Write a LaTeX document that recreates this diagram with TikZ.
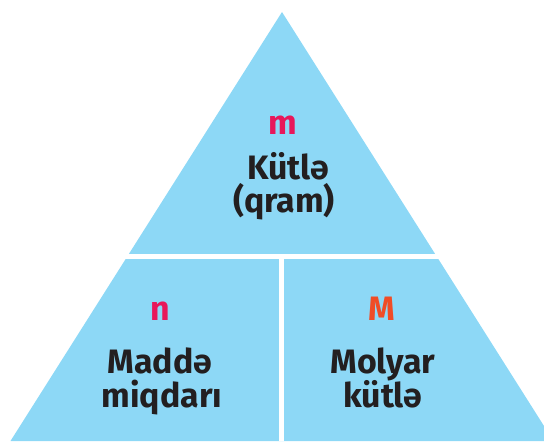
\documentclass[tikz,border=0pt]{standalone}
\usepackage{fontspec}
\setmainfont{Fira Sans}
\definecolor{himmel}{RGB}{141,216,246}
\definecolor{rosa}{RGB}{232,23,90}
\definecolor{orangerot}{RGB}{240,76,38}
\definecolor{schrift}{RGB}{35,31,32}
\def\s{0.035278}
\def\ecke#1#2{({(#1)*\s},{(441-(#2))*\s})}

\begin{document}
\begin{tikzpicture}[every node/.style={font=\fontsize{34}{40}\selectfont\bfseries,anchor=base,inner sep=0pt,color=schrift}]
\useasboundingbox \ecke{0}{0} rectangle \ecke{544}{441};
\fill[color=himmel] \ecke{282}{12} -- \ecke{10.5}{441} -- \ecke{553.5}{441} -- cycle;
\fill[color=white] \ecke{0}{254} rectangle \ecke{544}{259};
\fill[color=white] \ecke{279}{259} rectangle \ecke{284}{441};
% oben
\node[color=rosa] (m) at \ecke{282.5}{135} {m};
\node (kuetle) at \ecke{288}{180} {Kütlə};
\node (qram) at \ecke{284}{212} {(qram)};
% links unten
\node[color=rosa] (n) at \ecke{160}{320} {n};
\node (madde) at \ecke{160}{373} {Maddə};
\node (miqdari) at \ecke{162}{407} {miqdarı};
% rechts unten
\node[color=orangerot] (M) at \ecke{382}{320} {M};
\node (molyar) at \ecke{383}{373} {Molyar};
\node (kuetle2) at \ecke{383}{407} {kütlə};
\end{tikzpicture}
\end{document}
